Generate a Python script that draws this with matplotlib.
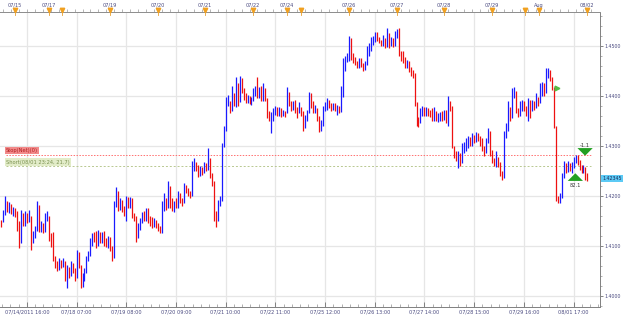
import matplotlib
matplotlib.use("Agg")
import matplotlib.pyplot as plt
import matplotlib.transforms as mtransforms
import numpy as np

# ---------------- data (hourly EUR/USD-like bars) ----------------
close = [
1.4142,1.4168,1.4192,1.4175,1.4180,1.4168,1.4172,1.4165,1.4135,1.4110,
1.4160,1.4145,1.4160,1.4150,1.4165,1.4100,1.4125,1.4135,1.4180,1.4135,
1.4140,1.4130,1.4160,1.4165,1.4120,1.4110,1.4075,1.4060,1.4055,1.4068,
1.4060,1.4068,1.4040,1.4055,1.4045,1.4060,1.4050,1.4035,1.4085,1.4060,
1.4020,1.4040,1.4050,1.4075,1.4085,1.4110,1.4120,1.4112,1.4105,1.4125,
1.4110,1.4120,1.4108,1.4100,1.4115,1.4095,1.4075,1.4185,1.4205,1.4180,
1.4190,1.4175,1.4165,1.4195,1.4180,1.4195,1.4160,1.4155,1.4115,1.4140,
1.4150,1.4165,1.4155,1.4155,1.4150,1.4145,1.4140,1.4150,1.4140,1.4135,
1.4128,1.4180,1.4190,1.4180,1.4215,1.4180,1.4175,1.4185,1.4180,1.4200,
1.4190,1.4185,1.4215,1.4210,1.4205,1.4200,1.4260,1.4265,1.4255,1.4245,
1.4255,1.4248,1.4262,1.4255,1.4270,1.4240,1.4225,1.4160,1.4155,1.4185,
1.4195,1.4300,1.4335,1.4390,1.4395,1.4372,1.4400,1.4385,1.4420,1.4390,
1.4425,1.4410,1.4398,1.4390,1.4398,1.4387,1.4392,1.4410,1.4415,1.4400,
1.4410,1.4395,1.4412,1.4395,1.4360,1.4355,1.4360,1.4370,1.4375,1.4365,
1.4372,1.4362,1.4368,1.4363,1.4405,1.4385,1.4375,1.4385,1.4370,1.4365,
1.4372,1.4365,1.4340,1.4355,1.4368,1.4395,1.4380,1.4370,1.4378,1.4355,
1.4335,1.4348,1.4375,1.4380,1.4388,1.4380,1.4375,1.4382,1.4375,1.4378,
1.4370,1.4400,1.4460,1.4470,1.4472,1.4495,1.4480,1.4470,1.4465,1.4460,
1.4470,1.4462,1.4455,1.4465,1.4485,1.4495,1.4510,1.4515,1.4525,1.4515,
1.4508,1.4505,1.4515,1.4500,1.4528,1.4505,1.4512,1.4505,1.4525,1.4528,
1.4485,1.4475,1.4470,1.4460,1.4468,1.4452,1.4445,1.4440,1.4385,1.4350,
1.4345,1.4370,1.4375,1.4365,1.4372,1.4365,1.4362,1.4355,1.4370,1.4355,
1.4360,1.4365,1.4355,1.4368,1.4355,1.4385,1.4378,1.4300,1.4280,1.4275,
1.4280,1.4270,1.4295,1.4300,1.4305,1.4315,1.4305,1.4320,1.4310,1.4320,
1.4315,1.4305,1.4295,1.4285,1.4310,1.4320,1.4290,1.4270,1.4265,1.4275,
1.4265,1.4245,1.4235,1.4320,1.4335,1.4380,1.4355,1.4405,1.4410,1.4370,
1.4362,1.4385,1.4388,1.4378,1.4365,1.4390,1.4370,1.4385,1.4378,1.4395,
1.4385,1.4415,1.4420,1.4410,1.4445,1.4450,1.4435,1.4420,1.4340,1.4195,
1.4190,1.4200,1.4240,1.4260,1.4250,1.4262,1.4255,1.4262,1.4272,1.4278,
1.4268,1.4258,1.4250,1.4258,1.4240,1.42345,
]
high = [
1.4151,1.4171,1.4199,1.4190,1.4187,1.4183,1.4178,1.4176,1.4170,1.4150,
1.4172,1.4165,1.4170,1.4165,1.4172,1.4160,1.4130,1.4140,1.4190,1.4182,
1.4150,1.4145,1.4165,1.4170,1.4160,1.4125,1.4128,1.4080,1.4070,1.4075,
1.4072,1.4076,1.4070,1.4062,1.4058,1.4070,1.4065,1.4055,1.4092,1.4088,
1.4062,1.4045,1.4055,1.4080,1.4090,1.4115,1.4125,1.4128,1.4130,1.4132,
1.4128,1.4128,1.4130,1.4115,1.4120,1.4118,1.4100,1.4190,1.4218,1.4210,
1.4195,1.4192,1.4180,1.4200,1.4198,1.4198,1.4195,1.4165,1.4160,1.4145,
1.4155,1.4168,1.4170,1.4175,1.4175,1.4160,1.4158,1.4155,1.4152,1.4145,
1.4140,1.4190,1.4205,1.4195,1.4230,1.4220,1.4195,1.4190,1.4195,1.4210,
1.4205,1.4195,1.4225,1.4222,1.4215,1.4210,1.4270,1.4275,1.4268,1.4262,
1.4260,1.4258,1.4268,1.4265,1.4295,1.4275,1.4245,1.4230,1.4170,1.4192,
1.4200,1.4305,1.4340,1.4398,1.4402,1.4390,1.4420,1.4405,1.4437,1.4425,
1.4440,1.4435,1.4415,1.4405,1.4402,1.4400,1.4398,1.4415,1.4420,1.4437,
1.4418,1.4420,1.4425,1.4415,1.4395,1.4370,1.4368,1.4375,1.4380,1.4378,
1.4378,1.4375,1.4372,1.4370,1.4418,1.4408,1.4390,1.4390,1.4392,1.4378,
1.4388,1.4378,1.4370,1.4362,1.4372,1.4408,1.4405,1.4390,1.4382,1.4375,
1.4360,1.4352,1.4380,1.4388,1.4395,1.4392,1.4385,1.4386,1.4385,1.4382,
1.4380,1.4420,1.4475,1.4480,1.4485,1.4520,1.4515,1.4485,1.4478,1.4470,
1.4475,1.4475,1.4465,1.4470,1.4500,1.4505,1.4518,1.4520,1.4528,1.4527,
1.4518,1.4512,1.4522,1.4515,1.4535,1.4525,1.4518,1.4515,1.4530,1.4533,
1.4535,1.4490,1.4490,1.4478,1.4472,1.4470,1.4458,1.4452,1.4445,1.4388,
1.4358,1.4375,1.4380,1.4378,1.4378,1.4375,1.4372,1.4375,1.4378,1.4370,
1.4365,1.4368,1.4370,1.4372,1.4372,1.4400,1.4390,1.4380,1.4300,1.4290,
1.4290,1.4285,1.4305,1.4308,1.4315,1.4320,1.4318,1.4325,1.4322,1.4328,
1.4325,1.4320,1.4315,1.4300,1.4315,1.4335,1.4330,1.4292,1.4275,1.4290,
1.4278,1.4268,1.4250,1.4330,1.4345,1.4390,1.4378,1.4415,1.4418,1.4410,
1.4375,1.4390,1.4392,1.4390,1.4380,1.4395,1.4392,1.4392,1.4390,1.4405,
1.4398,1.4425,1.4428,1.4425,1.4455,1.4456,1.4452,1.4438,1.4418,1.4340,
1.4200,1.4205,1.4245,1.4270,1.4265,1.4270,1.4265,1.4268,1.4278,1.4282,
1.4282,1.4272,1.4262,1.4262,1.4258,1.4245,
]
low = [
1.4137,1.4147,1.4161,1.4168,1.4165,1.4163,1.4160,1.4158,1.4130,1.4096,
1.4105,1.4140,1.4140,1.4145,1.4148,1.4092,1.4105,1.4115,1.4130,1.4128,
1.4128,1.4125,1.4128,1.4150,1.4110,1.4098,1.4070,1.4055,1.4050,1.4052,
1.4055,1.4058,1.4030,1.4015,1.4035,1.4040,1.4045,1.4030,1.4035,1.4055,
1.4015,1.4018,1.4030,1.4045,1.4070,1.4080,1.4100,1.4108,1.4095,1.4100,
1.4105,1.4105,1.4100,1.4098,1.4095,1.4090,1.4070,1.4075,1.4178,1.4170,
1.4172,1.4168,1.4160,1.4150,1.4175,1.4175,1.4155,1.4150,1.4108,1.4115,
1.4132,1.4145,1.4150,1.4150,1.4145,1.4140,1.4135,1.4138,1.4135,1.4130,
1.4125,1.4125,1.4170,1.4172,1.4175,1.4175,1.4170,1.4168,1.4175,1.4175,
1.4185,1.4180,1.4185,1.4205,1.4200,1.4195,1.4200,1.4250,1.4250,1.4238,
1.4240,1.4242,1.4245,1.4250,1.4252,1.4235,1.4220,1.4150,1.4138,1.4150,
1.4180,1.4190,1.4298,1.4330,1.4380,1.4365,1.4370,1.4380,1.4378,1.4380,
1.4388,1.4405,1.4392,1.4385,1.4385,1.4383,1.4382,1.4390,1.4400,1.4395,
1.4395,1.4390,1.4390,1.4390,1.4355,1.4350,1.4325,1.4350,1.4362,1.4360,
1.4360,1.4358,1.4360,1.4358,1.4365,1.4380,1.4370,1.4372,1.4365,1.4355,
1.4365,1.4360,1.4330,1.4335,1.4350,1.4365,1.4375,1.4365,1.4365,1.4350,
1.4328,1.4330,1.4340,1.4370,1.4372,1.4375,1.4370,1.4372,1.4370,1.4362,
1.4365,1.4368,1.4398,1.4450,1.4468,1.4470,1.4472,1.4465,1.4462,1.4455,
1.4455,1.4458,1.4450,1.4452,1.4462,1.4480,1.4490,1.4502,1.4508,1.4510,
1.4505,1.4500,1.4500,1.4495,1.4498,1.4495,1.4500,1.4498,1.4500,1.4515,
1.4480,1.4470,1.4465,1.4455,1.4455,1.4448,1.4440,1.4435,1.4380,1.4340,
1.4338,1.4345,1.4360,1.4360,1.4360,1.4360,1.4358,1.4350,1.4350,1.4350,
1.4348,1.4350,1.4350,1.4352,1.4345,1.4340,1.4370,1.4295,1.4275,1.4270,
1.4255,1.4260,1.4265,1.4285,1.4290,1.4295,1.4300,1.4300,1.4305,1.4308,
1.4310,1.4300,1.4290,1.4280,1.4285,1.4305,1.4280,1.4265,1.4260,1.4258,
1.4258,1.4240,1.4231,1.4235,1.4315,1.4330,1.4350,1.4355,1.4395,1.4365,
1.4358,1.4360,1.4370,1.4370,1.4360,1.4350,1.4355,1.4370,1.4372,1.4375,
1.4380,1.4385,1.4400,1.4400,1.4405,1.4435,1.4430,1.4412,1.4335,1.4190,
1.4185,1.4185,1.4195,1.4235,1.4245,1.4248,1.4250,1.4245,1.4255,1.4265,
1.4262,1.4252,1.4245,1.4245,1.4232,1.4230,
]
first_open = 1.4145

bottom_labels = ["07/14/2011 16:00", "07/18 07:00", "07/19 08:00", "07/20 09:00",
                 "07/21 10:00", "07/22 11:00", "07/25 12:00", "07/26 13:00",
                 "07/27 14:00", "07/28 15:00", "07/29 16:00", "08/01 17:00"]
bottom_label_bars = [13, 38, 63, 88, 113, 138, 163, 188, 213, 238, 263, 288]

day_bars = [7, 24.1, 30.7, 54.8, 79.0, 102.6, 126.8, 143.9, 150.9, 175.1, 199.2,
            222.8, 246.9, 263.6, 270.6, 294.8]
day_labels = ["07/15", "07/17", "", "07/19", "07/20", "07/21", "07/22", "07/24", "",
              "07/26", "07/27", "07/28", "07/29", "", "Aug", "08/02"]

y_major = [1.40, 1.41, 1.42, 1.43, 1.44, 1.45]
last_price = 1.42345
stop_level = 1.4282
short_level = 1.4259
stop_text = "Stop(Net)(0)"
short_text = "Short(08/01 23:24, 21.7)"
buy_bar, buy_price, buy_text = 288.9, 1.4250, "82.1"
sell_bar, sell_price, sell_text = 293.8, 1.4274, "-1.1"
mark_bar, mark_price = 279.7, 1.4416

# ---------------- figure ----------------
W, H = 625, 319
fig = plt.figure(figsize=(W / 100, H / 100), dpi=100)
ax_l, ax_r, ax_t, ax_b = 0 / W, 600 / W, 12 / H, 307 / H
ax = fig.add_axes([ax_l, 1 - ax_b, ax_r - ax_l, ax_b - ax_t])

n = len(close)
x = np.arange(n)
opens = [first_open] + close[:-1]
up = np.array(close) >= np.array(opens)

ax.set_xlim(-0.5, 301.3)
ax.set_ylim(1.3977, 1.4567)

label_col = "#4a4a80"
grid_col = "#e6e6e6"

# grid
for b in bottom_label_bars:
    ax.axvline(b, color=grid_col, lw=0.9, zorder=0)
for yv in y_major:
    ax.axhline(yv, color=grid_col, lw=0.9, zorder=0)

# bars
ax.vlines(x[up], np.array(low)[up], np.array(high)[up], color="#1a1aff", lw=0.9, zorder=3)
ax.vlines(x[~up], np.array(low)[~up], np.array(high)[~up], color="#ee1111", lw=0.9, zorder=3)

# order lines
ax.axhline(stop_level, xmin=0.01, xmax=0.985, color="#ff7070", lw=0.7, ls=(0, (1.5, 1.5)), zorder=2)
ax.axhline(short_level, xmin=0.01, xmax=0.985, color="#b8c890", lw=0.7, ls=(0, (2, 2)), zorder=2)
ax.text(2.5, stop_level + 0.0003, stop_text, fontsize=3.7, color="#b02020", va="bottom", ha="left",
        bbox=dict(boxstyle="square,pad=0.28", fc="#f28a8a", ec="none"), zorder=4)
ax.text(2.5, short_level + 0.0003, short_text, fontsize=3.7, color="#7a9050", va="bottom", ha="left",
        bbox=dict(boxstyle="square,pad=0.28", fc="#e2ecc8", ec="none"), zorder=4)

# trade arrows
green = "#22a022"
astyle = "simple,head_length=0.5,head_width=1.0,tail_width=0.36"
ax.annotate("", xy=(buy_bar, buy_price), xytext=(buy_bar, buy_price - 0.0022),
            arrowprops=dict(arrowstyle=astyle, mutation_scale=11, color=green, lw=0), zorder=6)
ax.text(buy_bar, buy_price - 0.0025, buy_text, fontsize=3.7, color="#333333", ha="center", va="top", zorder=6)
ax.annotate("", xy=(sell_bar, sell_price), xytext=(sell_bar, sell_price + 0.0020),
            arrowprops=dict(arrowstyle=astyle, mutation_scale=11, color=green, lw=0), zorder=6)
ax.text(sell_bar, sell_price + 0.0022, sell_text, fontsize=3.7, color="#333333", ha="center", va="bottom", zorder=6)
ax.plot([mark_bar], [mark_price], marker=">", ms=3.4, color="#55bb44", mec="#55bb44", zorder=6)

# bottom axis
ax.set_xticks(bottom_label_bars)
ax.set_xticklabels(bottom_labels, fontsize=3.6, color=label_col)
minors = [b + m * 25 / 6 for b in [-12] + bottom_label_bars for m in range(1, 6)]
minors = [m for m in minors if -0.5 < m < 301]
ax.set_xticks(minors, minor=True)
ax.tick_params(axis="x", which="major", direction="in", length=3.5, width=0.6, color="#707070", pad=2)
ax.tick_params(axis="x", which="minor", direction="in", length=2, width=0.5, color="#909090")

# right axis
ax.yaxis.tick_right()
ax.set_yticks(y_major)
ax.set_yticklabels([f"{v:.4f}" for v in y_major], fontsize=3.4, color=label_col)
ax.set_yticks(np.arange(1.398, 1.4567, 0.002), minor=True)
ax.tick_params(axis="y", which="major", direction="out", length=2.5, width=0.6, color="#707070", pad=0.5)
ax.tick_params(axis="y", which="minor", direction="out", length=1.5, width=0.5, color="#909090")

ax.spines["left"].set_visible(False)
for s in ["right", "bottom", "top"]:
    ax.spines[s].set_color("#808080")
    ax.spines[s].set_linewidth(0.7)

# top axis
ax2 = ax.twiny()
ax2.set_xlim(ax.get_xlim())
ax2.set_xticks(day_bars)
ax2.set_xticklabels(day_labels, fontsize=3.6, color=label_col)
ax2.set_xticks(np.arange(1, 301, 4), minor=True)
ax2.tick_params(axis="x", which="major", direction="out", length=0, pad=3.0)
ax2.tick_params(axis="x", which="minor", direction="out", length=2, width=0.5, color="#999999")
for s in ["left", "right", "bottom"]:
    ax2.spines[s].set_visible(False)
ax2.spines["top"].set_color("#909090")
ax2.spines["top"].set_linewidth(0.7)
trans = mtransforms.blended_transform_factory(ax.transData, ax.transAxes)
for b in day_bars:
    ax2.plot([b, b], [1.0, 0.99], color="#e8a030", lw=0.6, transform=trans, clip_on=False, zorder=7)
    ax2.plot([b], [1.008], marker="v", ms=3.2, color="#f0a020", mec="#f0a020",
             transform=trans, clip_on=False, zorder=7)

# last price tag
trans_y = mtransforms.blended_transform_factory(ax.transAxes, ax.transData)
ax.text(1.004, last_price, f"{last_price:.5f}", transform=trans_y, fontsize=3.4, color="#1a2a5a",
        ha="left", va="center", bbox=dict(boxstyle="square,pad=0.25", fc="#5ccaf5", ec="none"),
        clip_on=False, zorder=8)

fig.savefig("out.png", dpi=100)
